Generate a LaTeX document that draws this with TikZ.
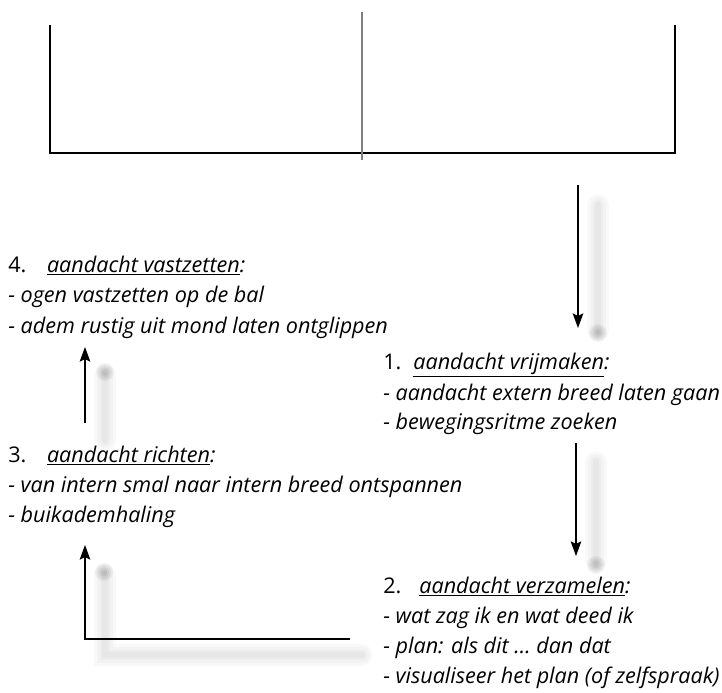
\documentclass[tikz,border=0pt]{standalone}
\usepackage{fontspec}
\setmainfont{Open Sans}
\usetikzlibrary{arrows.meta}

\tikzset{
  line/.style={inner sep=0pt, anchor=base west, font=\fontsize{16.2}{19}\selectfont\itshape},
  flow/.style={-{Stealth[length=11pt,width=8pt,inset=2pt]}, line width=0.8pt},
  haze/.style={draw=black, line width=#1, opacity=0.025, line cap=round},
  blot/.style={fill=black, opacity=0.05},
}
\newcommand{\phasenr}[2]{\textup{#1}\hspace{#2}}

\begin{document}
\begin{tikzpicture}[x=0.75pt,y=-0.75pt]
\useasboundingbox (0,0) rectangle (722,693);

% the box at the top
\draw[line width=1.1pt] (50,25) -- (50,153) -- (675,153) -- (675,25);
\draw[gray, line width=0.9pt] (362,12) -- (362,160);

% the four phases
\node[line] (t4) at (8,272) {\phasenr{4.}{15.5pt}\underline{aandacht vastzetten}:};
\node[line] (t4a) at (8,302) {- ogen vastzetten op de bal};
\node[line] (t4b) at (8,333) {- adem rustig uit mond laten ontglippen};

\node[line] (t1) at (383,369) {\phasenr{1.}{9pt}\underline{aandacht vrijmaken}:};
\node[line] (t1a) at (383,400) {- aandacht extern breed laten gaan};
\node[line] (t1b) at (383,429) {- bewegingsritme zoeken};

\node[line] (t3) at (8,462) {\phasenr{3.}{15.5pt}\underline{aandacht richten}:};
\node[line] (t3a) at (8,492) {- van intern smal naar intern breed ontspannen};
\node[line] (t3b) at (8,522) {- buikademhaling};

\node[line] (t2) at (383,593) {\phasenr{2.}{13.5pt}\underline{aandacht verzamelen}:};
\node[line] (t2a) at (383,623) {- wat zag ik en wat deed ik};
\node[line] (t2b) at (383,653) {- plan: als dit \dots\ dan dat};
\node[line] (t2c) at (383,683) {- visualiseer het plan (of zelfspraak)};

% arrow ends
\coordinate (a1s) at (578,185);
\coordinate (a1e) at (578,328);
\coordinate (a2s) at (576,443);
\coordinate (a2e) at (576,556);
\coordinate (a3s) at (350,639);
\coordinate (a3c) at (85,639);
\coordinate (a3e) at (85,545);
\coordinate (a4s) at (85,423);
\coordinate (a4e) at (85,347);

% soft shadows
\foreach \w in {16,12,8,5} {
  \draw[haze=\w] (598,205) -- (598,330);
  \draw[haze=\w] (596,462) -- (596,560);
  \draw[haze=\w] (105,575) -- (105,655) -- (362,655);
  \draw[haze=\w] (105,376) -- (105,440);
}
\foreach \r in {9,7,5,3} {
  \fill[blot] (598,333) circle (\r);
  \fill[blot] (596,565) circle (\r);
  \fill[blot] (104,572) circle (\r);
  \fill[blot] (105,372) circle (\r);
}

% arrows
\draw[flow] (a1s) -- (a1e);
\draw[flow] (a2s) -- (a2e);
\draw[flow] (a3s) -- (a3c) -- (a3e);
\draw[flow] (a4s) -- (a4e);
\end{tikzpicture}
\end{document}
